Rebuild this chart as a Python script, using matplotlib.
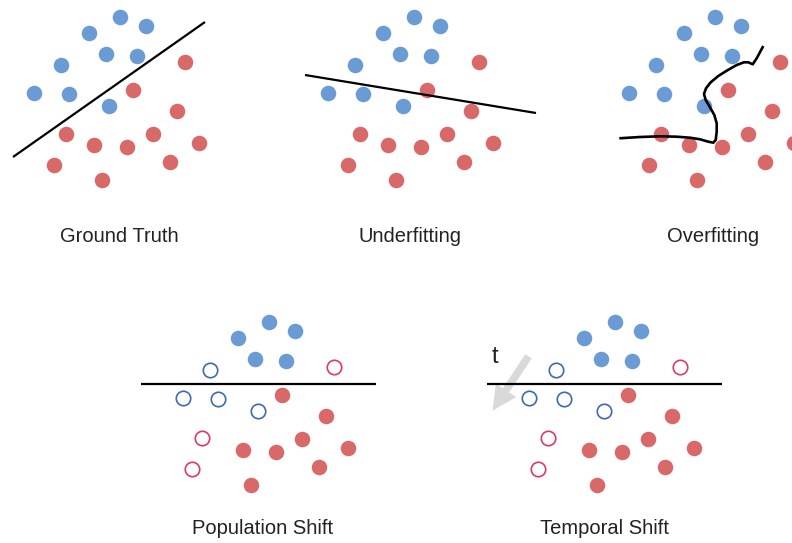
import matplotlib
matplotlib.use("Agg")
import matplotlib.pyplot as plt
from matplotlib.patches import FancyArrowPatch
import numpy as np

plt.rcParams['font.family'] = ['Liberation Sans', 'DejaVu Sans']

# ---- data (pixel-like coordinates within a panel) ----
blue_x = [120, 146, 89, 106, 137, 61, 34, 69, 109]
blue_y = [17, 26, 33, 54, 56, 65, 93, 94, 106]
red_x = [185, 133, 177, 66, 153, 94, 127, 199, 54, 170, 102]
red_y = [62, 90, 111, 134, 134, 145, 147, 143, 165, 162, 180]

# shift panels: which blue points are hollow, and the hollow red points
shift_blue_filled = [0, 1, 2, 3, 4]
shift_blue_hollow = [5, 6, 7, 8]
shift_red_filled = [1, 2, 4, 5, 6, 7, 9, 10]
shift_red_hollow_x = [185, 53, 43]
shift_red_hollow_y = [62, 133, 164]

panel_names = ["Ground Truth", "Underfitting", "Overfitting", "Population Shift", "Temporal Shift"]
panel_dx = [0, 294, 595, 149, 495]
panel_dy = [0, 0, 0, 305, 305]
label_x = [119, 410, 713, 263, 604]
label_y = [236, 236, 236, 529, 529]

gt_line_x = [13, 205]
gt_line_y = [157, 22]
under_line_x = [305, 536]
under_line_y = [75, 113]
over_curve_x = [619.3, 640, 660, 676.7, 690, 700, 708.3, 713.3, 715.7, 716.7, 716.7, 714.3,
                710, 705.7, 704, 706, 710.7, 718.3, 726.7, 736.7, 744, 748.3, 752.7, 756.7, 763.3]
over_curve_y = [138.3, 137, 136.3, 136.7, 137.7, 139.3, 141.7, 142.7, 140, 131.7, 123.3, 115,
                107.3, 100, 94, 88.3, 82.3, 76, 70.7, 65, 62.3, 62.3, 64.3, 58.3, 46]
shift_line_x = [-8, 227]
shift_line_y = [79, 79]

arrow_start = (530, 354)
arrow_end = (491, 413)
t_pos = (495, 357)

BLUE = "#6A9BD4"
RED = "#D96868"
HBLUE = "#3F68B5"
HRED = "#DB3B62"
S = 125

fig = plt.figure(figsize=(7.92, 5.43), dpi=100)
ax = fig.add_axes([0, 0, 1, 1])
ax.set_xlim(0, 792)
ax.set_ylim(543, 0)
ax.axis("off")

bx = np.array(blue_x, float)
by = np.array(blue_y, float)
rx = np.array(red_x, float)
ry = np.array(red_y, float)

# top three panels: all filled
for i in range(3):
    dx, dy = panel_dx[i], panel_dy[i]
    ax.scatter(bx + dx, by + dy, s=S, color=BLUE, linewidths=0, zorder=2)
    ax.scatter(rx + dx, ry + dy, s=S, color=RED, linewidths=0, zorder=2)

ax.plot(gt_line_x, gt_line_y, color="black", lw=1.6, zorder=3, solid_capstyle="butt")
ax.plot(under_line_x, under_line_y, color="black", lw=1.6, zorder=3, solid_capstyle="butt")
ax.plot(over_curve_x, over_curve_y, color="black", lw=1.9, zorder=3,
        solid_joinstyle="round", solid_capstyle="butt")

# shift panels
for i in (3, 4):
    dx, dy = panel_dx[i], panel_dy[i]
    ax.scatter(bx[shift_blue_filled] + dx, by[shift_blue_filled] + dy, s=S,
               color=BLUE, linewidths=0, zorder=2)
    ax.scatter(bx[shift_blue_hollow] + dx, by[shift_blue_hollow] + dy, s=108,
               facecolors="white", edgecolors=HBLUE, linewidths=1.2, zorder=2)
    ax.scatter(rx[shift_red_filled] + dx, ry[shift_red_filled] + dy, s=S,
               color=RED, linewidths=0, zorder=2)
    ax.scatter(np.array(shift_red_hollow_x) + dx, np.array(shift_red_hollow_y) + dy, s=108,
               facecolors="white", edgecolors=HRED, linewidths=1.2, zorder=2)
    ax.plot(np.array(shift_line_x) + dx, np.array(shift_line_y) + dy, color="black",
            lw=1.6, zorder=3, solid_capstyle="butt")

arr = FancyArrowPatch(arrow_start, arrow_end,
                      arrowstyle="simple,head_length=1.6,head_width=1.6,tail_width=0.5",
                      mutation_scale=11, color="#D9D9D9", lw=0, zorder=1)
ax.add_patch(arr)
ax.text(t_pos[0], t_pos[1], "t", fontsize=17, color="#222222", ha="center", va="center")

for name, lx, ly in zip(panel_names, label_x, label_y):
    ax.text(lx, ly, name, fontsize=14.5, color="#222222", ha="center", va="center")

fig.savefig("out.png", dpi=100)
